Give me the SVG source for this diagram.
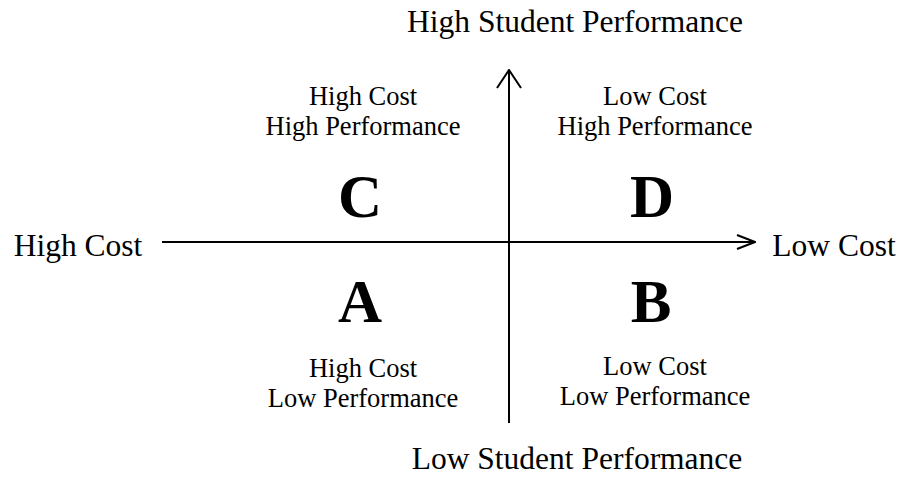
<svg xmlns="http://www.w3.org/2000/svg" width="900" height="478" viewBox="0 0 900 478">
<style>
text{font-family:"Liberation Serif","Times New Roman",serif;fill:#000;text-anchor:middle}
.ax{font-size:31.5px}
.q{font-size:26.5px}
.big{font-size:61px;font-weight:bold}
.line{stroke:#000;stroke-width:2;fill:none}
.head{stroke:#000;stroke-width:2;fill:none;stroke-linejoin:miter}
</style>
<defs>
<marker id="arrH" viewBox="0 0 20 16" refX="19" refY="8" markerWidth="20" markerHeight="16" markerUnits="userSpaceOnUse" orient="auto">
<path class="head" d="M1,1 L19,8 L1,15"/>
</marker>
<marker id="arrV" viewBox="0 0 20 26" refX="19" refY="13" markerWidth="20" markerHeight="26" markerUnits="userSpaceOnUse" orient="auto">
<path class="head" d="M1,1 L19,13 L1,25"/>
</marker>
</defs>
<rect width="900" height="478" fill="#fff"/>
<g id="connectors">
<line class="line" x1="162" y1="242" x2="755" y2="242" marker-end="url(#arrH)"/>
<line class="line" x1="509" y1="423" x2="509" y2="70" marker-end="url(#arrV)"/>
</g>
<g id="axis-top"><text class="ax" x="575" y="32">High Student Performance</text></g>
<g id="axis-bottom"><text class="ax" x="577" y="469">Low Student Performance</text></g>
<g id="axis-left"><text class="ax" x="78" y="256">High Cost</text></g>
<g id="axis-right"><text class="ax" x="834" y="256">Low Cost</text></g>
<g id="quad-C">
<text class="q" x="363" y="105">High Cost</text>
<text class="q" x="363" y="135">High Performance</text>
<text class="big" x="360" y="217">C</text>
</g>
<g id="quad-D">
<text class="q" x="655" y="105">Low Cost</text>
<text class="q" x="655" y="135">High Performance</text>
<text class="big" x="652" y="217">D</text>
</g>
<g id="quad-A">
<text class="big" x="360" y="322">A</text>
<text class="q" x="363" y="377">High Cost</text>
<text class="q" x="363" y="407">Low Performance</text>
</g>
<g id="quad-B">
<text class="big" x="651" y="322">B</text>
<text class="q" x="655" y="375">Low Cost</text>
<text class="q" x="655" y="405">Low Performance</text>
</g>
</svg>
